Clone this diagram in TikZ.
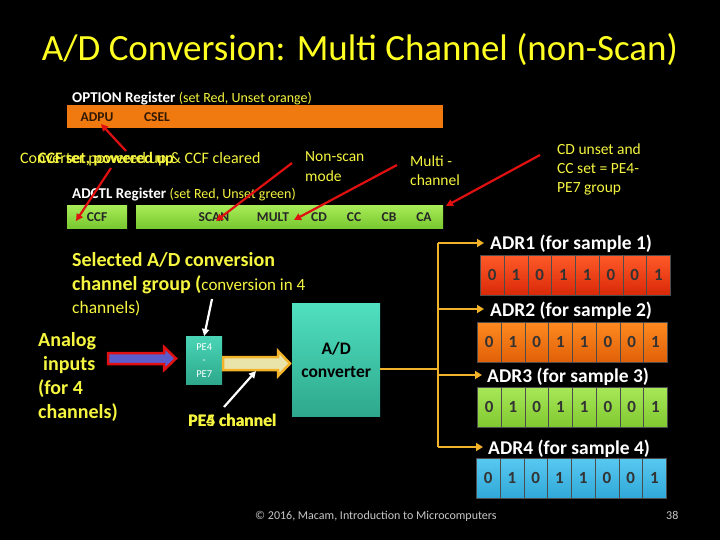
\documentclass[tikz,border=0pt]{standalone}
\usepackage{fontspec}
\setmainfont{Carlito}
\usetikzlibrary{arrows.meta}
\definecolor{ttl}{HTML}{FFFF22}
\definecolor{txy}{HTML}{F6F640}
\definecolor{redar}{HTML}{E01010}
\definecolor{orgbar}{HTML}{F07A10}
\definecolor{grnT}{HTML}{A8EC58}
\definecolor{grnB}{HTML}{78C830}
\definecolor{tealT}{HTML}{50E0C0}
\definecolor{tealB}{HTML}{2EA88C}
\definecolor{conn}{HTML}{F2B22A}
\definecolor{r1T}{HTML}{FF5A28}
\definecolor{r1B}{HTML}{D82808}
\definecolor{r2T}{HTML}{FF8A20}
\definecolor{r2B}{HTML}{E06008}
\definecolor{r3T}{HTML}{A8E858}
\definecolor{r3B}{HTML}{80C830}
\definecolor{r4T}{HTML}{58C8F0}
\definecolor{r4B}{HTML}{30A8D8}
\tikzset{
  lbl/.style={anchor=base west, inner sep=0pt},
  note/.style={anchor=base west, inner sep=0pt, text=txy, font=\fontsize{15.5}{18}\selectfont},
  redarrow/.style={draw=redar, line width=2.2pt, -{Triangle[length=7pt,width=7pt]}},
  whitearrow/.style={draw=white, line width=2.2pt, -{Triangle[length=7pt,width=7pt]}},
  connline/.style={draw=conn, line width=2.4pt},
  connarrow/.style={draw=conn, line width=2.4pt, -{Triangle[length=7pt,width=8pt]}},
  bitname/.style={inner sep=0pt, text=black!85, font=\fontsize{13.5}{15}\selectfont\bfseries},
  bitcell/.style={draw=black!70, line width=0.5pt, minimum width=23.75pt, minimum height=40pt, inner sep=0pt, anchor=north west, font=\fontsize{17}{19}\selectfont\bfseries, text=black!80},
  bigy/.style={anchor=base west, inner sep=0pt, text=txy, font=\fontsize{20}{22}\selectfont\bfseries},
  adrlbl/.style={anchor=base west, inner sep=0pt, text=white, font=\fontsize{19.5}{22}\selectfont\bfseries},
}
\begin{document}
\begin{tikzpicture}[x=1pt,y=-1pt]
\fill[black] (0,0) rectangle (720,540);
\useasboundingbox (0,0) rectangle (720,540);

% title
\node[text=ttl, font=\fontsize{37}{42}\selectfont] (title) at (360,50) {A/D Conversion: Multi Channel (non-Scan)};

% OPTION register
\node[lbl, text=white, font=\fontsize{15}{17}\selectfont] (optlbl) at (72,103) {\textbf{OPTION Register} {\fontsize{14}{16}\selectfont\textcolor{txy}{(set Red, Unset orange)}}};
\node[anchor=north west, fill=orgbar, minimum width=376pt, minimum height=23pt, inner sep=0pt] (optbar) at (67,105) {};
\node[bitname, text=black!80!orgbar] (adpu) at (97,117) {ADPU};
\node[bitname, text=black!80!orgbar] (csel) at (157,117) {CSEL};

% annotation texts
\node[note, font=\fontsize{16}{18}\selectfont] (convtxt) at (20,164) {Converter powered up \& CCF cleared};
\node[note, font=\fontsize{16}{18}\selectfont\bfseries] (ccftxt) at (38,164) {CCF set, powered up};
\node[note] (nonscan1) at (305,162) {Non-scan};
\node[note] (nonscan2) at (305,182) {mode};
\node[note] (multi1) at (410,167) {Multi -};
\node[note] (multi2) at (410,186) {channel};
\node[note] (cd1) at (557,155) {CD unset and};
\node[note] (cd2) at (557,174) {CC set = PE4-};
\node[note] (cd3) at (557,193) {PE7 group};

% ADCTL register
\node[lbl, text=white, font=\fontsize{15}{17}\selectfont] (adctllbl) at (72,199) {\textbf{ADCTL Register} {\fontsize{14}{16}\selectfont\textcolor{txy}{(set Red, Unset green)}}};
\node[anchor=north west, top color=grnT, bottom color=grnB, minimum width=60pt, minimum height=23pt, inner sep=0pt] (ccfbox) at (67,205) {};
\node[anchor=north west, top color=grnT, bottom color=grnB, minimum width=307pt, minimum height=23pt, inner sep=0pt] (ctlbox) at (136,205) {};
\node[bitname] (ccf) at (97,217) {CCF};
\node[bitname] (scan) at (214,217) {SCAN};
\node[bitname] (mult) at (273,217) {MULT};
\node[bitname] (cd) at (319,217) {CD};
\node[bitname] (cc) at (354,217) {CC};
\node[bitname] (cb) at (389,217) {CB};
\node[bitname] (ca) at (424,217) {CA};

% red annotation arrows
\coordinate (a1s) at (126,151);
\coordinate (a1e) at (101,124);
\coordinate (a2s) at (111,168);
\coordinate (a2e) at (76,221);
\coordinate (a3s) at (292,163);
\coordinate (a3e) at (216,221);
\coordinate (a4s) at (397,165);
\coordinate (a4e) at (294,220);
\coordinate (a5s) at (540,155);
\coordinate (a5e) at (446,206);
\draw[redarrow] (a1s) -- (a1e);
\draw[redarrow] (a2s) -- (a2e);
\draw[redarrow] (a3s) -- (a3e);
\draw[redarrow] (a4s) -- (a4e);
\draw[redarrow] (a5s) -- (a5e);

% selected group text
\node[bigy] (sel1) at (72,266) {Selected A/D conversion};
\node[bigy] (sel2) at (72,290) {channel group ({\mdseries\fontsize{17}{19}\selectfont conversion in 4}};
\node[note, font=\fontsize{17.5}{19}\selectfont] (sel3) at (72,313) {channels)};

% analog inputs
\node[bigy] (an1) at (38,346) {Analog};
\node[bigy] (an2) at (43,370) {inputs};
\node[bigy] (an3) at (38,394) {(for 4};
\node[bigy] (an4) at (38,418) {channels)};

% PE4-PE7 box
\node[anchor=north west, top color=tealT!80!tealB, bottom color=tealB, minimum width=36pt, minimum height=48pt, inner sep=0pt, text=white, font=\fontsize{10.5}{13.5}\selectfont, align=center] (pebox) at (186,336) {PE4\\-\\PE7};

% fat arrows
\draw[draw=redar, line width=2.5pt, fill=blue!55!white!80!black, line join=miter]
  (108,353) -- (164,353) -- (164,347) -- (176,358.5) -- (164,370) -- (164,364) -- (108,364) -- cycle;
\draw[draw=conn, line width=2.5pt, fill=yellow!30!white!90!black, line join=miter]
  (223,357) -- (278,357) -- (278,351) -- (290,363.5) -- (278,376) -- (278,370) -- (223,370) -- cycle;

% PE channel text
\node[bigy, font=\fontsize{17.5}{19}\selectfont\bfseries] (pe4ch) at (188,426) {PE4 channel};
\node[bigy, font=\fontsize{17.5}{19}\selectfont\bfseries] (pe5ch) at (188.5,426) {PE5 channel};

% white arrows
\coordinate (w1s) at (212,299);
\coordinate (w2s) at (224,407);
\coordinate (w2e) at (256,371);
\draw[whitearrow] (w1s) -- (pebox.north);
\draw[whitearrow] (w2s) -- (w2e);

% A/D converter
\node[anchor=north west, top color=tealT, bottom color=tealB, minimum width=88pt, minimum height=113pt, inner sep=0pt, text=black, font=\fontsize{17.5}{23}\selectfont\bfseries, align=center] (adc) at (292,303) {A/D\\converter};

% connectors to ADR registers
\coordinate (jn) at (438,369);
\coordinate (jtop) at (438,243);
\coordinate (jbot) at (438,447);
\coordinate (j2) at (438,309);
\coordinate (j3) at (438,375);
\coordinate (t1) at (484,243);
\coordinate (t2) at (484,309);
\coordinate (t3) at (482,375);
\coordinate (t4) at (483,447);
\draw[connline] (adc.east |- jn) -- (jn);
\draw[connline] (jtop) -- (jbot);
\draw[connarrow] (jtop) -- (t1);
\draw[connarrow] (j2) -- (t2);
\draw[connarrow] (j3) -- (t3);
\draw[connarrow] (jbot) -- (t4);

% ADR labels
\node[adrlbl] (adr1) at (490,249) {ADR1 (for sample 1)};
\node[adrlbl] (adr2) at (490,316) {ADR2 (for sample 2)};
\node[adrlbl] (adr3) at (487,382) {ADR3 (for sample 3)};
\node[adrlbl] (adr4) at (488,454) {ADR4 (for sample 4)};

% register cells
\foreach \r/\x/\y/\ct/\cb in {1/480/255/r1T/r1B, 2/477/322/r2T/r2B, 3/477/387/r3T/r3B, 4/476/458/r4T/r4B}{
  \foreach \b [count=\i from 0] in {0,1,0,1,1,0,0,1}{
    \node[bitcell, top color=\ct, bottom color=\cb] (r\r c\i) at ({\x+\i*23.75},\y) {\b};
  }
}

% footer
\node[lbl, text=black!22!white, font=\fontsize{12}{14}\selectfont] (footer) at (255,519) {\textcopyright{} 2016, Macam, Introduction to Microcomputers};
\node[lbl, text=black!22!white, font=\fontsize{12}{14}\selectfont] (pagenum) at (666,519) {38};
\end{tikzpicture}
\end{document}
